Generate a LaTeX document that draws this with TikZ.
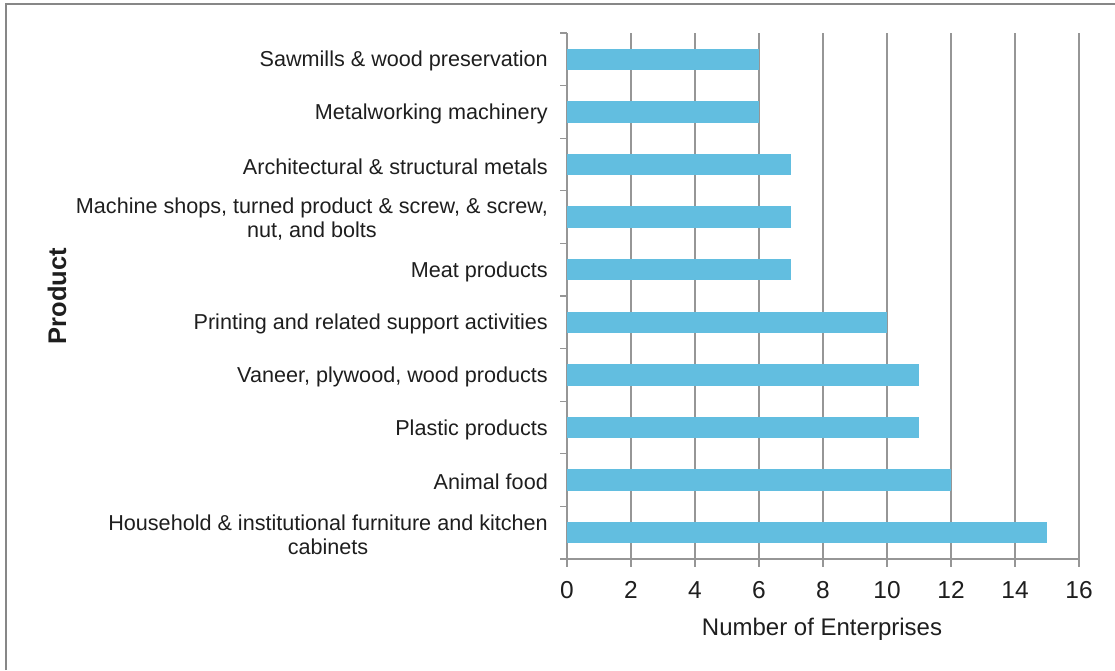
\documentclass[tikz,border=0pt]{standalone}
\usepackage{fontspec}
\setmainfont{Liberation Sans}
\definecolor{barblue}{RGB}{98,190,224}
\definecolor{gridgray}{RGB}{150,150,150}
\definecolor{framegray}{RGB}{135,135,135}
\definecolor{txt}{RGB}{30,30,30}
\begin{document}
\begin{tikzpicture}[x=1pt,y=-1pt,
  grid/.style={draw=gridgray,line width=1.3pt},
  bar/.style={fill=barblue,draw=none},
  catlabel/.style={anchor=east,align=center,text=txt,inner sep=0pt,font=\fontsize{21.6}{24.5}\selectfont},
  ticklabel/.style={anchor=north,text=txt,inner sep=0pt,font=\fontsize{24.5}{28}\selectfont},
  axtitle/.style={text=txt,inner sep=0pt,font=\fontsize{24}{28}\selectfont},
  frameline/.style={draw=framegray,line width=2.2pt}]
\useasboundingbox (0,0) rectangle (1115,670);
% outer frame (left and top edges only visible)
\draw[frameline] (6,670) -- (6,4) -- (1115,4);
% vertical gridlines
\foreach \v in {2,4,...,16} {
  \draw[grid] ({567+32*\v},33) -- ({567+32*\v},567);
}
% left axis and category ticks
\draw[grid] (567,33) -- (567,567);
\foreach \k in {0,...,9} {
  \draw[grid] (560,{33+52.6*\k}) -- (567,{33+52.6*\k});
}
% x axis
\draw[grid] (560,559) -- (1079,559);
% bars
\foreach \v [count=\i from 0] in {6,6,7,7,7,10,11,11,12,15} {
  \fill[bar] (567,{33+52.6*(\i+0.5)-10.7}) rectangle ({567+32*\v},{33+52.6*(\i+0.5)+10.7});
}
% category labels
\node[catlabel] (c0) at (548,{35+52.6*0.5}) {Sawmills \& wood preservation};
\node[catlabel] (c1) at (548,{35+52.6*1.5}) {Metalworking machinery};
\node[catlabel] (c2) at (548,{35+52.6*2.5}) {Architectural \& structural metals};
\node[catlabel] (c3) at (548,{35+52.6*3.5}) {Machine shops, turned product \& screw, \& screw,\\nut, and bolts};
\node[catlabel] (c4) at (548,{35+52.6*4.5}) {Meat products};
\node[catlabel] (c5) at (548,{35+52.6*5.5}) {Printing and related support activities};
\node[catlabel] (c6) at (548,{35+52.6*6.5}) {Vaneer, plywood, wood products};
\node[catlabel] (c7) at (548,{35+52.6*7.5}) {Plastic products};
\node[catlabel] (c8) at (548,{35+52.6*8.5}) {Animal food};
\node[catlabel] (c9) at (548,{35+52.6*9.5}) {Household \& institutional furniture and kitchen\\cabinets};
% tick labels
\foreach \v in {0,2,...,16} {
  \node[ticklabel] (t\v) at ({567+32*\v},581) {\v};
}
% axis titles
\node[axtitle] (xt) at (822,629) {Number of Enterprises};
\node[axtitle,rotate=90,font=\fontsize{25.5}{28}\selectfont\bfseries] (yt) at (57,296) {Product};
\end{tikzpicture}
\end{document}
